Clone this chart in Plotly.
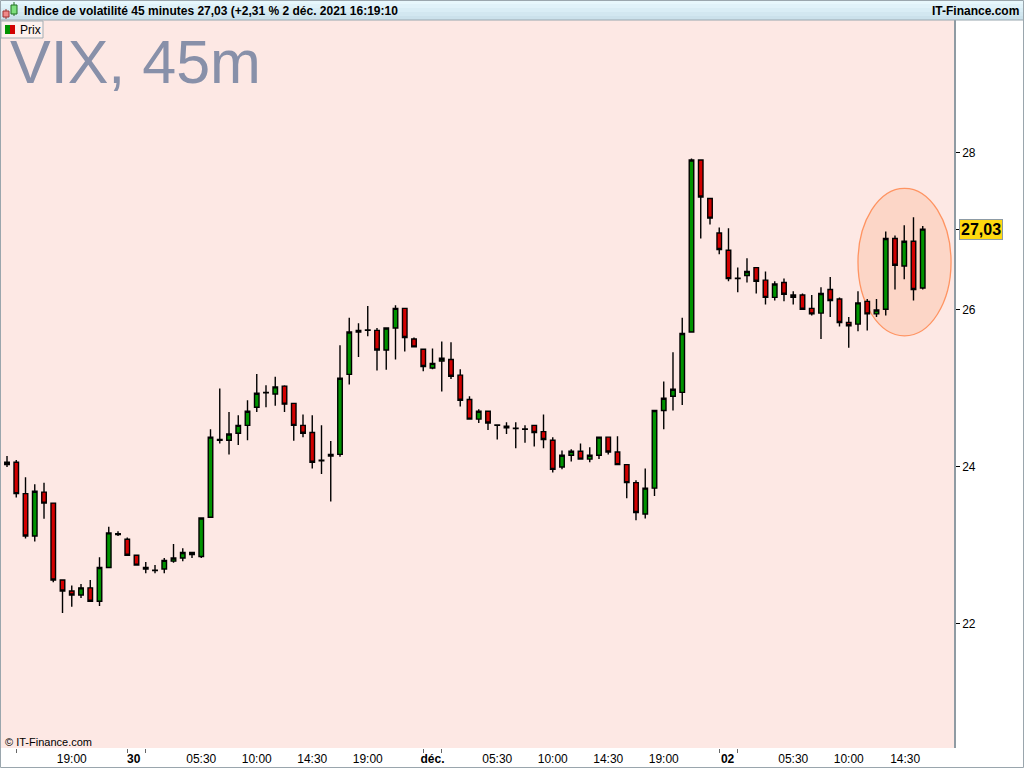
import plotly.graph_objects as go

# 45-minute VIX candles (index = candle number)
opens = [
    24.03, 24.06, 23.66, 23.12, 23.68, 23.54, 22.56, 22.42, 22.37, 22.46,
    22.29, 22.72, 23.15, 23.08, 22.875, 22.72, 22.685, 22.70, 22.80, 22.84,
    22.91, 22.86, 23.36, 24.35, 24.34, 24.43, 24.53, 24.76, 24.945, 24.93,
    25.03, 24.81, 24.53, 24.44, 24.085, 24.14, 24.16, 25.18, 25.72, 25.745,
    25.74, 25.49, 25.77, 26.02, 25.63, 25.50, 25.26, 25.35, 25.37, 25.17,
    24.86, 24.61, 24.71, 24.535, 24.50, 24.495, 24.485, 24.53, 24.45, 24.34,
    24.00, 24.15, 24.20, 24.10, 24.15, 24.38, 24.19, 24.03, 23.80, 23.40,
    23.73, 24.72, 24.90, 24.95, 25.72, 27.91, 27.42, 26.98, 26.76, 26.405,
    26.44, 26.54, 26.38, 26.16, 26.35, 26.19, 26.19, 26.02, 25.96, 26.26,
    26.14, 25.84, 25.82, 26.11, 25.95, 26.01, 26.91, 26.56, 26.875, 26.28,
]
highs = [
    24.14, 24.09, 23.87, 23.78, 23.80, 23.54, 22.56, 22.49, 22.51, 22.56,
    22.85, 23.24, 23.18, 23.10, 22.875, 22.79, 22.75, 22.84, 23.02, 22.965,
    22.91, 23.35, 24.48, 25.00, 24.70, 24.66, 24.85, 25.185, 25.04, 25.15,
    25.04, 24.81, 24.67, 24.66, 24.53, 24.33, 25.55, 25.90, 25.83, 26.05,
    25.77, 25.77, 26.06, 26.02, 25.65, 25.50, 25.51, 25.60, 25.59, 25.245,
    24.90, 24.735, 24.71, 24.535, 24.57, 24.57, 24.53, 24.53, 24.67, 24.38,
    24.21, 24.225, 24.30, 24.25, 24.38, 24.38, 24.39, 24.03, 23.83, 23.98,
    24.72, 25.09, 25.46, 25.90, 27.93, 27.91, 27.42, 27.05, 27.04, 26.54,
    26.66, 26.54, 26.49, 26.365, 26.40, 26.24, 26.21, 26.19, 26.29, 26.42,
    26.16, 25.91, 26.24, 26.14, 26.14, 27.00, 26.95, 27.08, 27.18, 27.07,
]
lows = [
    24.00, 23.61, 23.09, 23.05, 23.34, 22.53, 22.14, 22.22, 22.33, 22.28,
    22.23, 22.72, 23.12, 22.87, 22.75, 22.645, 22.645, 22.645, 22.78, 22.80,
    22.84, 22.84, 23.35, 24.30, 24.16, 24.28, 24.34, 24.70, 24.76, 24.78,
    24.70, 24.335, 24.38, 23.98, 23.91, 23.56, 24.13, 25.05, 25.40, 25.665,
    25.23, 25.24, 25.37, 25.47, 25.53, 25.22, 25.245, 24.96, 25.12, 24.77,
    24.61, 24.56, 24.47, 24.35, 24.42, 24.24, 24.31, 24.26, 24.24, 23.93,
    23.97, 24.07, 24.10, 24.06, 24.10, 24.16, 24.03, 23.60, 23.32, 23.345,
    23.63, 24.48, 24.72, 24.79, 25.72, 26.91, 27.09, 26.71, 26.365, 26.225,
    26.35, 26.21, 26.07, 26.12, 26.11, 26.07, 26.00, 25.93, 25.63, 25.91,
    25.79, 25.52, 25.73, 25.74, 25.91, 25.93, 26.26, 26.39, 26.12, 26.26,
]
closes = [
    24.06, 23.66, 23.12, 23.69, 23.54, 22.56, 22.42, 22.37, 22.46, 22.29,
    22.72, 23.16, 23.14, 22.875, 22.75, 22.70, 22.68, 22.81, 22.84, 22.91,
    22.885, 23.35, 24.38, 24.34, 24.42, 24.53, 24.71, 24.94, 24.95, 25.02,
    24.80, 24.53, 24.43, 24.06, 24.08, 24.16, 25.13, 25.72, 25.74, 25.74,
    25.49, 25.77, 26.02, 25.65, 25.53, 25.28, 25.32, 25.385, 25.155, 24.85,
    24.61, 24.71, 24.56, 24.53, 24.52, 24.49, 24.48, 24.44, 24.35, 23.97,
    24.15, 24.20, 24.10, 24.15, 24.38, 24.19, 24.03, 23.80, 23.42, 23.73,
    24.72, 24.875, 24.99, 25.70, 27.91, 27.44, 27.17, 26.77, 26.40, 26.40,
    26.49, 26.365, 26.16, 26.33, 26.20, 26.16, 26.01, 25.95, 26.21, 26.12,
    25.84, 25.80, 26.09, 25.95, 26.00, 26.91, 26.57, 26.875, 26.26, 27.03,
]
candle_idx = list(range(len(opens)))

time_tick_pos = [7, 13.7, 21, 27, 33, 39, 46, 53, 59, 65, 71, 77.9, 85, 91, 97.1]
time_tick_text = ["19:00", "<b>30</b>", "05:30", "10:00", "14:30", "19:00",
                  "<b>déc.</b>", "05:30", "10:00", "14:30", "19:00", "<b>02</b>",
                  "05:30", "10:00", "14:30"]
session_marks = [1, 13, 15, 45, 47, 77, 79]
price_ticks = [22, 24, 26, 28]
last_price = 27.03

FONT = "Liberation Sans, Arial, sans-serif"
GREEN = "#009300"
RED = "#d20000"


# pixel -> paper helpers for the decorations around the plot area
def fx(px):
    return (px - 1) / 953


def fy(py):
    return (748 - py) / 728


fig = go.Figure()
fig.add_trace(go.Candlestick(
    x=candle_idx, open=opens, high=highs, low=lows, close=closes,
    increasing=dict(fillcolor=GREEN, line=dict(color="black", width=1.4)),
    decreasing=dict(fillcolor=RED, line=dict(color="black", width=1.4)),
    whiskerwidth=0, showlegend=False, hoverinfo="skip",
))

shapes = []
# title bar with a soft vertical gradient
bands = ["#e7f7fc", "#e0f2f9", "#d9edf5", "#d2e7f0", "#cbe1eb"]
for k, c in enumerate(bands):
    shapes.append(dict(type="rect", xref="paper", yref="paper",
                       x0=fx(0), x1=fx(1024), y0=fy(4 * (k + 1)), y1=fy(4 * k),
                       fillcolor=c, line=dict(width=0), layer="above"))
shapes.append(dict(type="line", xref="paper", yref="paper",
                   x0=fx(0), x1=fx(1024), y0=fy(20), y1=fy(20),
                   line=dict(color="#98a6ae", width=1)))
# outer frame
shapes.append(dict(type="rect", xref="paper", yref="paper",
                   x0=fx(0.5), x1=fx(1023.5), y0=fy(767.5), y1=fy(0.5),
                   line=dict(color="#9aa6ad", width=1)))
# title-bar icon
shapes += [
    dict(type="line", xref="paper", yref="paper", x0=fx(6), x1=fx(6),
         y0=fy(19), y1=fy(9), line=dict(color="#a03030", width=1)),
    dict(type="rect", xref="paper", yref="paper", x0=fx(3), x1=fx(9),
         y0=fy(17), y1=fy(11), fillcolor="#f08a8a", line=dict(color="#a03030", width=1)),
    dict(type="line", xref="paper", yref="paper", x0=fx(14), x1=fx(14),
         y0=fy(16), y1=fy(2), line=dict(color="#207020", width=1)),
    dict(type="rect", xref="paper", yref="paper", x0=fx(11), x1=fx(17),
         y0=fy(14), y1=fy(5), fillcolor="#7ee07e", line=dict(color="#207020", width=1)),
]
# legend box
shapes += [
    dict(type="rect", xref="paper", yref="paper", x0=fx(1), x1=fx(43),
         y0=fy(38), y1=fy(21), fillcolor="#fdf1ee", line=dict(color="#a3adb3", width=1)),
    dict(type="rect", xref="paper", yref="paper", x0=fx(5), x1=fx(10),
         y0=fy(34), y1=fy(25), fillcolor=GREEN, line=dict(width=0)),
    dict(type="rect", xref="paper", yref="paper", x0=fx(10), x1=fx(15),
         y0=fy(34), y1=fy(25), fillcolor=RED, line=dict(width=0)),
]
# highlight ellipse around the last candles
shapes.append(dict(type="circle", xref="x", yref="y",
                   x0=92.0, x1=102.06, y0=25.67, y1=27.55,
                   fillcolor="#fcd6c7", line=dict(color="#ff9462", width=1.3),
                   layer="below"))

annotations = [
    dict(xref="paper", yref="paper", x=fx(22), y=fy(10.5), xanchor="left", yanchor="middle",
         text="<b>Indice de volatilité 45 minutes 27,03 (+2,31 % 2 déc. 2021 16:19:10</b>",
         showarrow=False, font=dict(family=FONT, size=12, color="black")),
    dict(xref="paper", yref="paper", x=fx(1021), y=fy(10.5), xanchor="right", yanchor="middle",
         text="<b>IT-Finance.com</b>", showarrow=False,
         font=dict(family=FONT, size=12, color="black")),
    dict(xref="paper", yref="paper", x=fx(18), y=fy(30), xanchor="left", yanchor="middle",
         text="Prix", showarrow=False, font=dict(family=FONT, size=12, color="black")),
    dict(xref="paper", yref="paper", x=fx(8), y=fy(62), xanchor="left", yanchor="middle",
         text="VIX, 45m", showarrow=False, font=dict(family=FONT, size=61, color="#8890a9")),
    dict(xref="paper", yref="paper", x=fx(3), y=fy(742), xanchor="left", yanchor="middle",
         text="© IT-Finance.com", showarrow=False,
         font=dict(family=FONT, size=11, color="black")),
    dict(xref="paper", yref="y", x=1, y=last_price, xanchor="left", yanchor="middle",
         xshift=5, text="<b>27,03</b>", showarrow=False,
         bgcolor="#ffd90f", bordercolor="#8d9ba5", borderwidth=1, borderpad=1,
         font=dict(family=FONT, size=16, color="black")),
]

fig.update_layout(
    width=1024, height=768,
    margin=dict(l=1, r=70, t=20, b=20, pad=0),
    paper_bgcolor="white",
    plot_bgcolor="#fde8e4",
    font=dict(family=FONT, size=12, color="black"),
    shapes=shapes,
    annotations=annotations,
    showlegend=False,
    xaxis=dict(
        range=[-0.65, 102.38], rangeslider=dict(visible=False),
        tickmode="array", tickvals=time_tick_pos, ticktext=time_tick_text,
        ticks="", showgrid=False, zeroline=False, showline=False,
        ticklabelstandoff=2,
        tickfont=dict(family=FONT, size=12, color="black"),
        minor=dict(tickmode="array", tickvals=session_marks, ticks="outside",
                   ticklen=4, tickcolor="#666666", showgrid=False),
    ),
    yaxis=dict(
        range=[20.42, 29.694], side="right",
        tickmode="array", tickvals=price_ticks + [last_price],
        ticktext=[str(v) for v in price_ticks] + [""],
        ticks="outside", ticklen=4, tickcolor="black",
        showgrid=False, zeroline=False,
        showline=True, linecolor="#8f9ba3", linewidth=1.5,
        tickfont=dict(family=FONT, size=12, color="black"),
    ),
)

# the page's default 8px body margin would push the 1024x768 figure off-screen
fig.write_html("out.html", config={"displayModeBar": False},
               post_script="document.body.style.margin='0';"
               "document.body.style.overflow='hidden';")
